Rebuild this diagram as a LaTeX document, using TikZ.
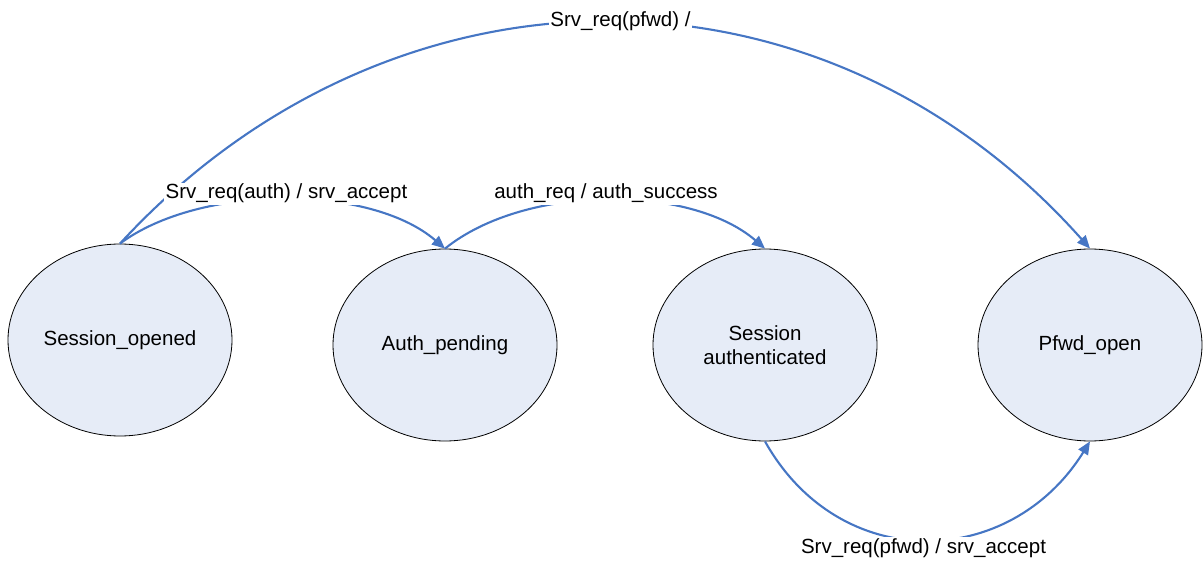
\documentclass[tikz,border=0pt]{standalone}
\usepackage{fontspec}
\setmainfont{Liberation Sans}
\usetikzlibrary{shapes.geometric,arrows.meta}
\definecolor{edgeblue}{RGB}{70,118,196}
\definecolor{statefill}{RGB}{230,236,247}
\tikzset{
  state/.style={ellipse,draw=black,line width=0.8pt,fill=statefill,minimum width=224pt,minimum height=192pt,inner sep=0pt,align=center,font=\fontsize{20.5}{24.5}\selectfont},
  trans/.style={draw=edgeblue,line width=2.1pt,-{Triangle[length=13pt,width=11pt]}},
  lbl/.style={fill=white,inner sep=1.5pt,anchor=base,font=\fontsize{20.5}{24.5}\selectfont}
}
\begin{document}
\begin{tikzpicture}[x=1pt,y=-1pt]
\useasboundingbox (0,0) rectangle (1204,561);
\node[state] (so) at (120,340) {Session\_opened};
\node[state] (ap) at (445,345) {Auth\_pending};
\node[state] (sa) at (765,345) {Session\\authenticated};
\node[state] (pf) at (1090,345) {Pfwd\_open};
\draw[trans] (so.north) .. controls (200,184) and (370,184) .. (ap.north);
\draw[trans] (ap.north) .. controls (525,184) and (690,184) .. (sa.north);
\draw[trans] (so.north) .. controls (390,-50) and (820,-55) .. (pf.north);
\draw[trans] (sa.south) .. controls (840,575) and (1010,570) .. (pf.south);
\node[lbl] (l1) at (286.5,199) {Srv\_req(auth) / srv\_accept};
\node[lbl] (l2) at (606,199) {auth\_req / auth\_success};
\node[lbl] (l3) at (620.5,27) {Srv\_req(pfwd) /};
\node[lbl] (l4) at (923.5,553) {Srv\_req(pfwd) / srv\_accept};
\end{tikzpicture}
\end{document}
